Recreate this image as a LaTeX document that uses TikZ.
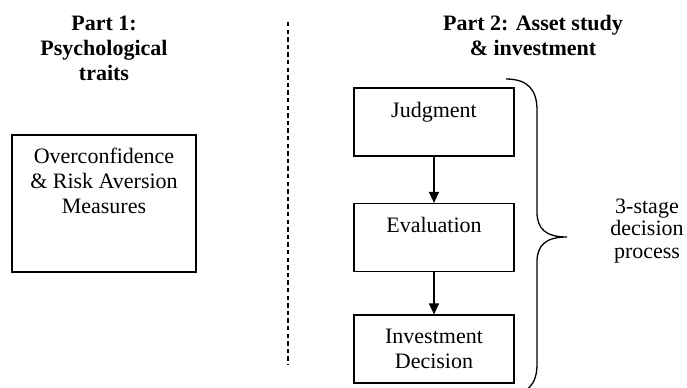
\documentclass[tikz,border=0pt]{standalone}
\usepackage{fontspec}
\setmainfont{Liberation Serif}
\usetikzlibrary{arrows.meta}

\tikzset{
    stagebox/.style = {draw, line width=0.6pt, rectangle, inner sep=0pt},
    boxtext/.style = {align=center, inner sep=0pt, font={\fontsize{11}{12.5}\selectfont}},
    parttitle/.style = {align=center, inner sep=0pt, font={\fontsize{11}{12.5}\selectfont\bfseries}},
    stagearrow/.style = {line width=0.65pt, -{Triangle[length=5.5pt,width=5pt]}}
}

\begin{document}
\begin{tikzpicture}[x=0.5pt, y=-0.5pt]
    \useasboundingbox (0,0) rectangle (687,387);

    % titles (base = last line)
    \node[parttitle, anchor=base] (partone) at (104,80) {Part 1:\\Psychological\\traits};
    \node[parttitle, anchor=base] (parttwo) at (533,55) {Part 2: Asset study\\\& investment};

    % separator
    \coordinate (septop) at (288,22);
    \coordinate (sepbot) at (288,365);
    \draw[line width=0.6pt, dash pattern=on 2.2pt off 1.6pt] (septop) -- (sepbot);

    % part 1
    \node[stagebox, minimum width=92pt, minimum height=68.5pt] (traits) at (104,203.5) {};
    \node[boxtext, anchor=base] (traitstext) at (104,213) {Overconfidence\\\& Risk Aversion\\Measures};

    % part 2
    \node[stagebox, minimum width=80pt, minimum height=34pt] (judgment) at (434,122) {};
    \node[stagebox, minimum width=80pt, minimum height=34pt] (evaluation) at (434,237.5) {};
    \node[stagebox, minimum width=80pt, minimum height=34pt] (decision) at (434,349) {};

    \node[boxtext, anchor=base] (judgmenttext) at (434,117) {Judgment};
    \node[boxtext, anchor=base] (evaluationtext) at (434,232) {Evaluation};
    \node[boxtext, anchor=base] (decisiontext) at (434,368) {Investment\\Decision};

    \draw[stagearrow] (judgment.south) -- (evaluation.north);
    \draw[stagearrow] (evaluation.south) -- (decision.north);

    % brace
    \coordinate (bracetop) at (506,79);
    \coordinate (bracetip) at (567,237);
    \coordinate (bracebot) at (506,395);
    \draw[line width=0.65pt] (bracetop) .. controls (528,79) and (537,90) .. (537,110)
        -- (537,212) .. controls (537,229) and (546,237) .. (bracetip)
        .. controls (546,237) and (537,245) .. (537,262)
        -- (537,364) .. controls (537,384) and (528,395) .. (bracebot);

    \node[boxtext, anchor=base, font={\fontsize{11}{11.25}\selectfont}] (stages) at (647,258) {3-stage\\decision\\process};
\end{tikzpicture}
\end{document}
